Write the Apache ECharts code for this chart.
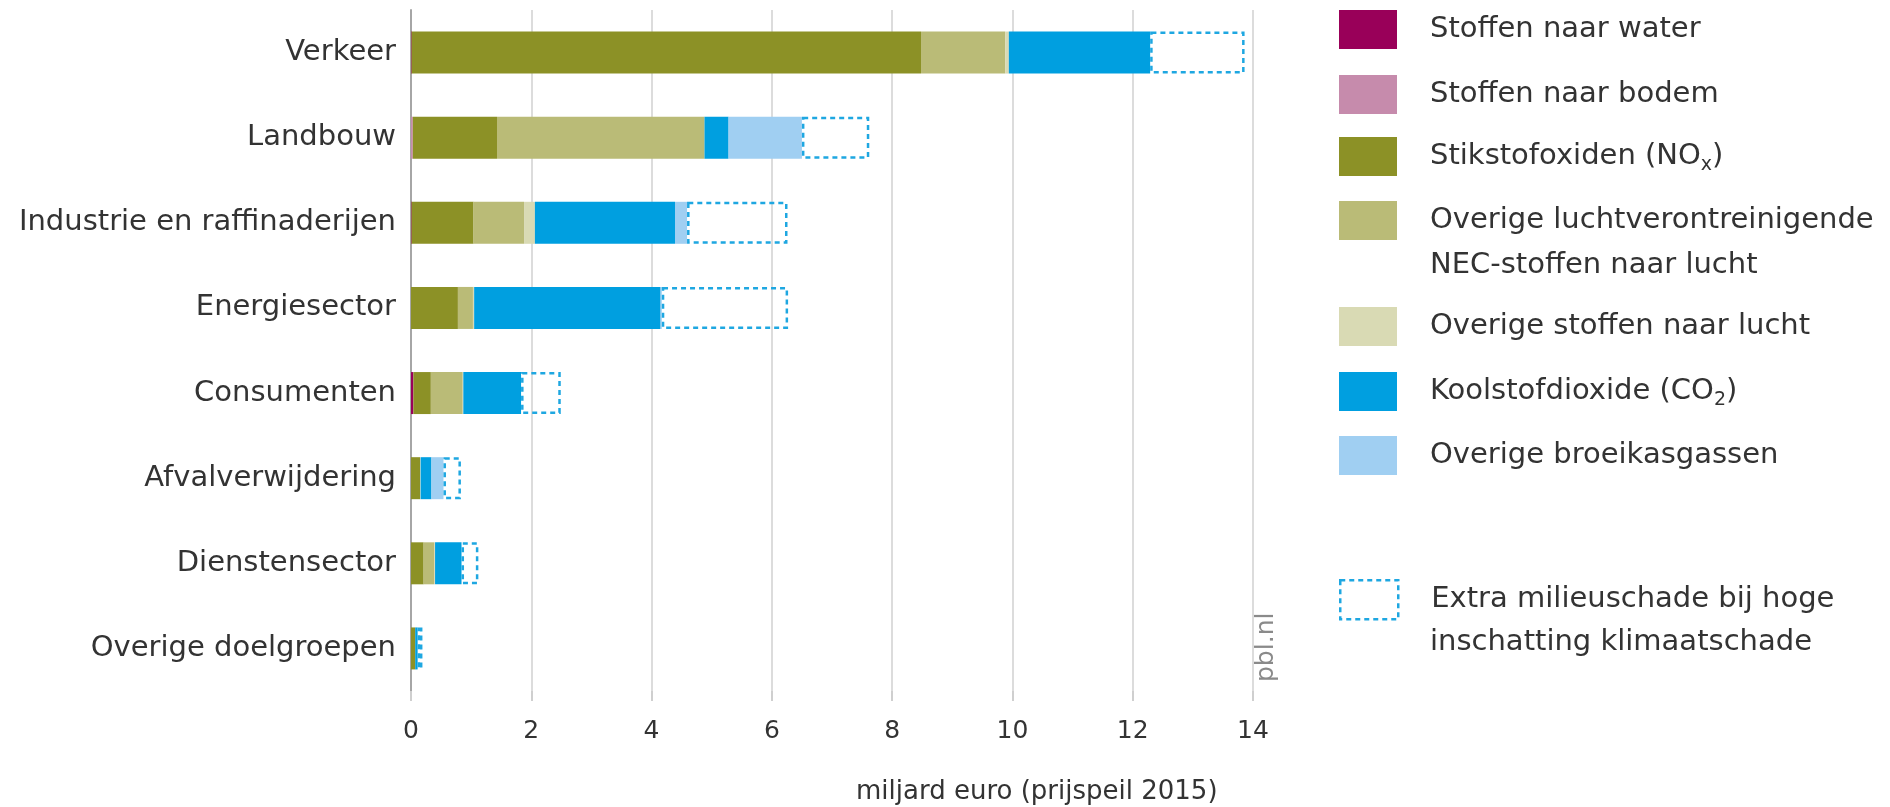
<!DOCTYPE html>
<html>
<head>
<meta charset="utf-8">
<script src="https://cdn.jsdelivr.net/npm/echarts@6/dist/echarts.min.js"></script>
<style>
  html, body { margin: 0; padding: 0; background: #fff; }
  #chart { width: 1890px; height: 807px; }
</style>
</head>
<body>
<div id="chart"></div>
<script>
// doelgroepen (van boven naar beneden)
const categories = ['Verkeer', 'Landbouw', 'Industrie en raffinaderijen', 'Energiesector',
  'Consumenten', 'Afvalverwijdering', 'Dienstensector', 'Overige doelgroepen'];

// milieuschade in miljard euro, per stof
const water = [0.01, 0, 0.01, 0, 0.04, 0, 0, 0];
const bodem = [0, 0.03, 0, 0, 0, 0, 0, 0];
const nox = [8.47, 1.40, 1.03, 0.78, 0.29, 0.15, 0.21, 0.07];
const nec = [1.40, 3.45, 0.84, 0.25, 0.53, 0, 0.18, 0];
const overigLucht = [0.06, 0, 0.18, 0.02, 0.01, 0.01, 0.01, 0];
const co2 = [2.35, 0.40, 2.33, 3.10, 0.96, 0.18, 0.44, 0.04];
const broeikas = [0, 1.22, 0.20, 0.02, 0, 0.20, 0, 0];
const extra = [1.57, 1.12, 1.67, 2.10, 0.66, 0.29, 0.28, 0.08];

const xTicks = [0, 2, 4, 6, 8, 10, 12, 14];

const font = "'DejaVu Sans', 'Open Sans', sans-serif";
const dashBlue = '#1ea7e1';

const names = ['Stoffen naar water', 'Stoffen naar bodem', 'Stikstofoxiden (NOx)',
  'Overige luchtverontreinigende NEC-stoffen naar lucht', 'Overige stoffen naar lucht',
  'Koolstofdioxide (CO2)', 'Overige broeikasgassen', 'Extra milieuschade bij hoge inschatting klimaatschade'];
const colors = ['#990059', '#c68bac', '#8c9126', '#babb77', '#d9dab4', '#009fe0', '#a0cff2', dashBlue];
const values = [water, bodem, nox, nec, overigLucht, co2, broeikas, extra];

// legendateksten: eerste regel in de legenda, tweede regel als losse tekst
const legendLabels = {
  'Stikstofoxiden (NOx)': 'Stikstofoxiden (NO{sub|x})',
  'Koolstofdioxide (CO2)': 'Koolstofdioxide (CO{sub|2})',
  'Overige luchtverontreinigende NEC-stoffen naar lucht': 'Overige luchtverontreinigende',
  'Extra milieuschade bij hoge inschatting klimaatschade': 'Extra milieuschade bij hoge'
};
const secondLines = [
  { text: 'NEC-stoffen naar lucht', y: 265 },
  { text: 'inschatting klimaatschade', y: 642 }
];
const legendTops = [10, 75, 137, 201, 307, 372, 436, 579];

const chart = echarts.init(document.getElementById('chart'));

const series = names.map(function (name, i) {
  const isExtra = i === names.length - 1;
  return {
    name: name,
    type: 'bar',
    stack: 'totaal',
    barWidth: 42,
    data: values[i],
    itemStyle: isExtra ? {
      color: 'rgba(255,255,255,0)',
      borderColor: dashBlue,
      borderWidth: 2.5,
      borderType: [5, 4]
    } : { color: colors[i] },
    emphasis: { disabled: true }
  };
});

const legends = names.map(function (name, i) {
  const isExtra = i === names.length - 1;
  return {
    left: 1339,
    top: legendTops[i],
    orient: 'vertical',
    padding: 0,
    icon: 'rect',
    itemWidth: 58,
    itemHeight: 39,
    selectedMode: false,
    data: [isExtra ? {
      name: name,
      itemStyle: { color: 'rgba(255,255,255,0)', borderColor: dashBlue, borderWidth: 2.5, borderType: [5, 4] }
    } : { name: name }],
    formatter: function (n) { return legendLabels[n] || n; },
    textStyle: {
      fontFamily: font,
      fontSize: 29,
      color: '#333',
      padding: [0, 0, 0, 28],
      rich: {
        sub: { fontFamily: font, fontSize: 19, color: '#333', padding: [17, 0, 0, 0] }
      }
    }
  };
});

const option = {
  animation: false,
  grid: { left: 411, right: 637, top: 10, bottom: 116 },
  xAxis: {
    type: 'value',
    min: xTicks[0],
    max: xTicks[xTicks.length - 1],
    interval: 2,
    axisLine: { show: false },
    axisTick: { show: true, length: 10, lineStyle: { color: '#cfcfcf', width: 2 } },
    splitLine: { show: true, lineStyle: { color: '#dcdcdc', width: 2 } },
    axisLabel: { margin: 28, fontFamily: font, fontSize: 25, color: '#333' }
  },
  yAxis: {
    type: 'category',
    inverse: true,
    data: categories,
    axisLine: { show: true, lineStyle: { color: '#a6a6a6', width: 2 } },
    axisTick: { show: false },
    axisLabel: { margin: 15, fontFamily: font, fontSize: 29, color: '#333' }
  },
  legend: legends,
  title: {
    text: 'miljard euro (prijspeil 2015)',
    left: 856,
    top: 779,
    padding: 0,
    textStyle: { fontFamily: font, fontSize: 26, fontWeight: 'normal', color: '#333' }
  },
  graphic: secondLines.map(function (l) {
    return {
      type: 'text',
      x: 1430,
      y: l.y,
      style: { text: l.text, fontFamily: font, fontSize: 29, fill: '#333', textVerticalAlign: 'middle' }
    };
  }).concat([{
    type: 'text',
    x: 1266,
    y: 682,
    z: 100,
    rotation: Math.PI / 2,
    style: { text: 'pbl.nl', fontFamily: font, fontSize: 25, fill: '#8a8a8a', textAlign: 'left', textVerticalAlign: 'middle' }
  }]),
  series: series
};

chart.setOption(option);
</script>
</body>
</html>
